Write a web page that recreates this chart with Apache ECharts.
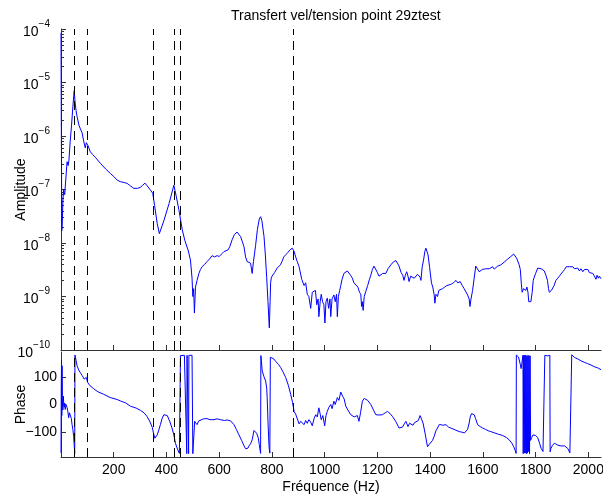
<!DOCTYPE html>
<html>
<head>
<meta charset="utf-8">
<script src="https://cdn.jsdelivr.net/npm/echarts@6/dist/echarts.min.js"></script>
<style>html,body{margin:0;padding:0;background:#fff}#c{width:603px;height:499px}</style>
</head>
<body>
<div id="c"></div>
<script>
const titleText = 'Transfert vel/tension point 29ztest';
const xTickVals = [200,400,600,800,1000,1200,1400,1600,1800,2000];
const phaseTickVals = [-100, 0, 100];
const ampTickVals = [1e-10,1e-9,1e-8,1e-7,1e-6,1e-5,1e-4];
const markerFreqs = [50, 99, 348, 428, 453, 881];

const ampFreq = [0,1,3,5,7,10,14,18,23,27,30,35,40,45,50,53,57,61,68,75,80,86,92,96,99,103,111,120,130,149,170,187,200,213,225,240,251,260,276,290,301,310,318,325,339,348,355,365,373,390,410,428,437,447,460,470,482,491,497,500,503,506,510,516,523,529,535,545,554,563,573,582,592,600,610,618,625,633,640,649,658,668,675,681,688,694,700,706,712,719,722,725,730,738,745,752,757,762,770,775,780,785,790,793,795,798,801,805,810,815,820,826,832,838,845,852,860,868,877,884,890,896,903,909,913,918,922,928,934,940,947,953,959,965,970,975,978,983,987,992,997,1001,1005,1010,1015,1020,1023,1028,1035,1040,1045,1048,1052,1057,1061,1066,1073,1080,1086,1092,1098,1105,1111,1118,1126,1132,1137,1140,1143,1146,1150,1156,1163,1170,1175,1181,1187,1194,1200,1206,1213,1220,1226,1232,1240,1251,1260,1270,1276,1282,1290,1296,1301,1306,1311,1316,1320,1326,1333,1340,1346,1352,1358,1362,1365,1370,1375,1380,1384,1388,1392,1398,1405,1410,1415,1418,1422,1428,1433,1440,1447,1455,1463,1472,1480,1488,1498,1505,1514,1522,1529,1535,1542,1548,1551,1555,1561,1567,1573,1579,1586,1592,1598,1605,1611,1618,1624,1630,1637,1643,1650,1656,1662,1668,1675,1681,1688,1694,1700,1706,1712,1717,1722,1728,1732,1737,1742,1746,1749,1751,1754,1757,1760,1763,1767,1771,1774,1778,1782,1787,1791,1795,1800,1808,1815,1821,1827,1833,1839,1845,1849,1852,1856,1860,1865,1870,1877,1884,1890,1896,1903,1910,1916,1922,1929,1935,1941,1947,1953,1960,1966,1972,1979,1985,1991,1998,2004,2010,2017,2023,2029,2033,2038,2042,2048];
const ampVal = [8.5e-5,3e-6,1.7e-8,2.5e-8,6e-8,1.0e-7,8e-8,1.5e-7,3.3e-7,2.8e-7,3.5e-7,8e-7,1.6e-6,3.5e-6,7.0e-6,4.5e-6,3.0e-6,2.3e-6,1.6e-6,1.3e-6,1.15e-6,8e-7,6e-7,7.5e-7,8.0e-7,6.5e-7,5.1e-7,4.5e-7,4.0e-7,3.1e-7,2.4e-7,2.0e-7,1.75e-7,1.5e-7,1.4e-7,1.35e-7,1.3e-7,1.2e-7,1.05e-7,1.05e-7,1.1e-7,1.2e-7,1.32e-7,1.2e-7,9.8e-8,8.5e-8,5e-8,2.3e-8,1.5e-8,2.6e-8,5.5e-8,1.2e-7,7.5e-8,4.2e-8,1.75e-8,1.1e-8,7.4e-9,4.8e-9,2.2e-9,1.0e-9,1.4e-9,4.9e-10,1.5e-9,2.0e-9,2.7e-9,3.2e-9,3.6e-9,4.0e-9,4.5e-9,5.0e-9,5.8e-9,5.5e-9,5.8e-9,5.6e-9,6.3e-9,6.9e-9,6.6e-9,7.4e-9,8.5e-9,1.15e-8,1.45e-8,1.6e-8,1.55e-8,1.32e-8,1.05e-8,8.5e-9,5.5e-9,4.5e-9,4.3e-9,4.2e-9,4.0e-9,2.7e-9,4.5e-9,9e-9,1.8e-8,2.8e-8,3.1e-8,2.6e-8,1.32e-8,6e-9,2.3e-9,8e-10,2.6e-10,8e-10,1.8e-9,2.3e-9,2.5e-9,2.2e-9,2.8e-9,3.0e-9,3.4e-9,3.6e-9,3.9e-9,4.5e-9,5.5e-9,6.0e-9,6.6e-9,7.4e-9,8.0e-9,7.0e-9,5.5e-9,4.5e-9,3.6e-9,3.4e-9,2.1e-9,2.0e-9,1.6e-9,1.8e-9,1.1e-9,1.0e-9,6e-10,1.2e-9,1.15e-9,1.3e-9,7e-10,9e-10,4.2e-10,8e-10,1.1e-9,8e-10,7e-10,3.2e-10,8e-10,9.3e-10,6e-10,9e-10,4.2e-10,9e-10,1.07e-9,8e-10,1.1e-9,4.2e-10,1.0e-9,1.3e-9,1.6e-9,2.1e-9,2.7e-9,2.6e-9,3.0e-9,3.0e-9,2.5e-9,2.2e-9,1.8e-9,1.7e-9,1.5e-9,1.2e-9,1.1e-9,6.5e-10,8e-10,5.5e-10,1.0e-9,1.25e-9,1.6e-9,2.1e-9,2.5e-9,3.2e-9,3.7e-9,3.5e-9,2.8e-9,2.4e-9,2.5e-9,2.7e-9,2.6e-9,2.7e-9,3.3e-9,3.9e-9,4.4e-9,4.7e-9,4.2e-9,3.7e-9,2.8e-9,2.5e-9,2.0e-9,2.5e-9,2.9e-9,2.4e-9,1.9e-9,2.4e-9,2.5e-9,2.2e-9,2.2e-9,2.6e-9,2.5e-9,2.3e-9,2.0e-9,3.6e-9,4.8e-9,7e-9,8.0e-9,7.6e-9,6e-9,3.5e-9,1.8e-9,1.5e-9,1.1e-9,7.5e-10,1.1e-9,1.0e-9,1.3e-9,1.4e-9,1.4e-9,1.5e-9,1.6e-9,1.65e-9,1.7e-9,1.8e-9,2.0e-9,1.8e-9,1.9e-9,1.6e-9,1.4e-9,1.3e-9,1.07e-9,9e-10,6.5e-10,9e-10,1.3e-9,2.2e-9,3.7e-9,3.6e-9,2.9e-9,3.1e-9,3.2e-9,3.4e-9,3.3e-9,3.5e-9,3.3e-9,3.5e-9,3.6e-9,3.25e-9,3.4e-9,3.7e-9,3.8e-9,3.9e-9,4.2e-9,4.4e-9,4.7e-9,5.0e-9,5.1e-9,5.6e-9,6.0e-9,6.2e-9,5.8e-9,5.2e-9,4.8e-9,4.0e-9,3.2e-9,1.7e-9,1.2e-9,1.2e-9,1.4e-9,1.3e-9,1.5e-9,1.3e-9,1.5e-9,1.2e-9,8e-10,7.5e-10,8e-10,1.2e-9,2.0e-9,2.3e-9,2.7e-9,3.4e-9,3.3e-9,3.3e-9,3.2e-9,3.0e-9,2.5e-9,2.0e-9,1.4e-9,1.2e-9,1.15e-9,1.3e-9,1.2e-9,1.6e-9,2.0e-9,2.2e-9,2.4e-9,2.5e-9,2.9e-9,3.2e-9,3.6e-9,3.7e-9,3.6e-9,3.5e-9,3.6e-9,3.3e-9,3.5e-9,3.4e-9,3.0e-9,3.3e-9,2.9e-9,3.2e-9,3.1e-9,3.2e-9,2.8e-9,3.0e-9,2.7e-9,2.4e-9,2.1e-9,2.5e-9,2.2e-9,2.4e-9,2.15e-9];

const phaseFreq = [0,1,2,3,4,5,7,9,10,12,14,16,19,23,26,29,32,35,39,42,45,48,51,52,53,57,61,67,73,80,88,92,96,99,101,110,124,140,162,187,213,225,245,263,285,301,315,326,336,346,351,356,360,365,371,377,383,390,396,403,412,421,428,434,442,449,451,453,460,468,475,477,478,483,484,485,492,497,500,504,507,512,516,522,529,540,554,565,580,592,605,620,630,643,650,656,665,675,685,693,700,704,709,713,720,725,732,738,742,748,752,757,758,760,763,770,776,780,782,785,789,792,794,800,807,815,825,833,842,852,862,871,878,884,890,896,903,909,915,922,928,934,940,947,953,960,966,972,978,983,987,993,1000,1005,1010,1016,1023,1028,1035,1040,1048,1054,1061,1068,1074,1080,1088,1099,1106,1112,1118,1124,1130,1136,1143,1150,1156,1163,1170,1175,1185,1194,1206,1219,1230,1238,1248,1257,1270,1282,1288,1295,1302,1308,1316,1322,1327,1335,1340,1346,1355,1362,1368,1373,1380,1390,1396,1403,1409,1415,1422,1428,1435,1441,1448,1455,1460,1470,1478,1485,1495,1502,1510,1520,1530,1536,1542,1548,1552,1557,1562,1567,1572,1580,1590,1599,1610,1620,1630,1645,1660,1675,1690,1700,1710,1717,1722,1726,1727,1731,1735,1738,1742,1745,1748,1752,1753,1755,1757,1759,1761,1763,1765,1767,1769,1771,1773,1775,1777,1779,1781,1785,1790,1795,1800,1808,1815,1821,1828,1833,1835,1840,1845,1850,1854,1855,1858,1864,1871,1878,1884,1890,1896,1903,1910,1916,1922,1926,1930,1936,1937,1942,1948,1953,1960,1966,1972,1978,1984,1991,1997,2003,2010,2016,2022,2029,2035,2041,2048];
const phaseVal = [-175,60,160,-40,140,20,-20,30,12,-10,5,-18,0,-11,-25,-48,-30,-37,-50,-73,-90,-116,-160,-178,179,160,140,125,116,105,92,89,98,92,80,68,57,46,37,25,18,13,6,-6,-13,-21,-30,-43,-60,-82,-105,-122,-118,-110,-92,-73,-52,-37,-35,-40,-60,-85,-110,-140,-162,-177,-179,177,176,178,177,-178,178,176,-178,178,177,178,-178,-176,-61,-68,-73,-60,-55,-52,-51,-55,-55,-52,-55,-58,-56,-59,-65,-73,-90,-110,-130,-147,-160,-165,-158,-150,-140,-128,-94,-100,-104,-120,-145,-177,177,160,122,100,85,60,25,-60,-153,-176,171,168,165,155,145,134,118,98,70,37,8,-25,-35,-40,-70,-61,-66,-73,-58,-68,-55,-64,-77,-50,-37,-45,-12,-35,-55,-40,-77,-40,-25,-10,0,-15,12,0,25,15,45,30,20,-6,-20,-37,-30,-45,-45,-40,-61,-30,12,22,21,15,8,0,-20,-37,-38,-37,-30,-25,-33,-43,-62,-85,-82,-82,-70,-61,-80,-68,-65,-75,-66,-73,-58,-40,-55,-67,-100,-153,-145,-150,-130,-116,-95,-85,-72,-65,-75,-70,-73,-82,-85,-92,-92,-96,-98,-100,-103,-110,-90,-67,-45,-33,-40,-37,-50,-73,-80,-85,-90,-95,-98,-103,-108,-112,-120,-128,-140,-153,-165,-177,179,178,172,165,145,130,150,178,-178,178,-176,179,-175,178,-178,176,-176,178,-170,177,-178,176,-130,-120,-110,-104,-112,-120,-140,-159,-170,-177,178,175,176,172,178,-171,-159,-148,-140,-145,-147,-144,-150,-153,-150,-155,-159,-165,-175,-176,180,175,170,167,165,160,158,155,153,150,148,146,143,140,137,134,133,129,126];

const minorTickVals = [];
for (let e = -10; e < -4; e++) for (let k = 2; k <= 9; k++) minorTickVals.push(k * Math.pow(10, e));

const ampData = ampFreq.map((f, i) => [f, ampVal[i]]);
const phaseData = phaseFreq.map((f, i) => [f, phaseVal[i]]);

const FONT = 'Liberation Sans, Arial, Helvetica, sans-serif';
const AX = '#333';
const chart = echarts.init(document.getElementById('c'), null, {renderer: 'canvas'});

const markLineCfg = {
  symbol: 'none', silent: true, animation: false,
  label: {show: false},
  lineStyle: {type: [9, 6], color: '#000', width: 1},
  data: markerFreqs.map(f => ({xAxis: f}))
};

chart.setOption({
  animation: false,
  backgroundColor: '#fff',
  title: {
    text: titleText, left: 231, top: 9, padding: 0,
    textStyle: {fontFamily: FONT, fontSize: 14, fontWeight: 'normal', color: '#000'}
  },
  grid: [
    {left: 61, top: 29, width: 540, height: 321, containLabel: false, outerBoundsMode: 'none'},
    {left: 61, top: 352, width: 540, height: 105, containLabel: false, outerBoundsMode: 'none'}
  ],
  xAxis: [
    {
      type: 'value', gridIndex: 0, min: 0, max: 2048,
      axisLine: {show: true, onZero: false, lineStyle: {color: AX, width: 1}},
      axisTick: {show: true, inside: true, length: 5, customValues: xTickVals, lineStyle: {color: AX}},
      axisLabel: {show: false},
      splitLine: {show: false}
    },
    {
      type: 'value', gridIndex: 1, min: 0, max: 2048,
      name: 'Fréquence (Hz)', nameLocation: 'middle', nameGap: 23, nameMoveOverlap: false,
      nameTextStyle: {fontFamily: FONT, fontSize: 14, color: '#000'},
      axisLine: {show: true, onZero: false, lineStyle: {color: AX, width: 1}},
      axisTick: {show: true, inside: true, length: 5, customValues: xTickVals, lineStyle: {color: AX}},
      axisLabel: {show: true, customValues: xTickVals, margin: 6, formatter: v => String(v),
        fontFamily: FONT, fontSize: 14, color: '#000'},
      splitLine: {show: false}
    }
  ],
  yAxis: [
    {
      type: 'log', gridIndex: 0, min: 1e-10, max: 1e-4, logBase: 10,
      name: 'Amplitude', nameLocation: 'middle', nameGap: 33, nameMoveOverlap: false,
      nameTextStyle: {fontFamily: FONT, fontSize: 14, color: '#000'},
      axisLine: {show: true, onZero: false, lineStyle: {color: AX, width: 1}},
      axisTick: {show: true, inside: true, length: 5, customValues: ampTickVals, lineStyle: {color: AX}},
      axisLabel: {
        show: true, margin: 11, customValues: ampTickVals,
        formatter: v => '{b|10}{s|\u2212' + Math.round(-Math.log10(v)) + '}',
        rich: {
          b: {fontFamily: FONT, fontSize: 14, color: '#000', lineHeight: 20, verticalAlign: 'bottom'},
          s: {fontFamily: FONT, fontSize: 10, color: '#000', lineHeight: 10, verticalAlign: 'top'}
        }
      },
      splitLine: {show: false}
    },
    {
      type: 'log', gridIndex: 0, min: 1e-10, max: 1e-4, logBase: 10, position: 'left',
      axisLine: {show: false, onZero: false},
      axisTick: {show: true, inside: true, length: 3, customValues: minorTickVals, lineStyle: {color: AX}},
      axisLabel: {show: false},
      splitLine: {show: false}
    },
    {
      type: 'value', gridIndex: 1, min: -190, max: 190,
      name: 'Phase', nameLocation: 'middle', nameGap: 33, nameMoveOverlap: false,
      nameTextStyle: {fontFamily: FONT, fontSize: 14, color: '#000'},
      axisLine: {show: true, onZero: false, lineStyle: {color: AX, width: 1}},
      axisTick: {show: true, inside: true, length: 5, customValues: phaseTickVals, lineStyle: {color: AX}},
      axisLabel: {
        show: true, margin: 4, customValues: phaseTickVals,
        formatter: v => (v < 0 ? '\u2212' + (-v) : '' + v),
        fontFamily: FONT, fontSize: 14, color: '#000'
      },
      splitLine: {show: false}
    }
  ],
  series: [
    {
      type: 'line', xAxisIndex: 0, yAxisIndex: 0, data: ampData,
      showSymbol: false, symbol: 'none', clip: true,
      lineStyle: {color: '#0000ff', width: 1},
      markLine: markLineCfg, z: 3
    },
    {
      type: 'line', xAxisIndex: 1, yAxisIndex: 2, data: phaseData,
      showSymbol: false, symbol: 'none', clip: true,
      lineStyle: {color: '#0000ff', width: 1},
      markLine: markLineCfg, z: 3
    }
  ]
});
</script>
</body>
</html>
